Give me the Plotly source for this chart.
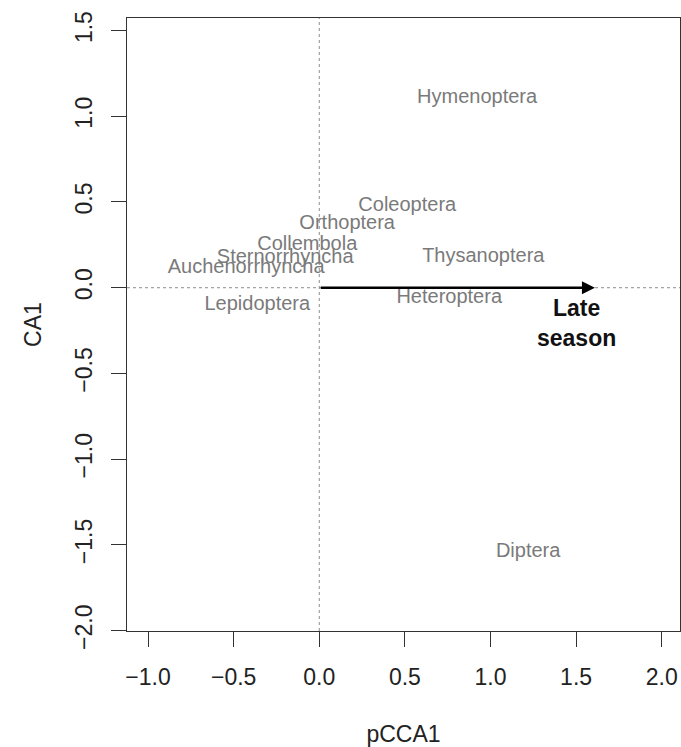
import plotly.graph_objects as go

# Taxon scores on the first constrained (pCCA1) and unconstrained (CA1) axes
taxa = ["Hymenoptera", "Coleoptera", "Orthoptera", "Collembola", "Sternorrhyncha",
        "Auchenorrhyncha", "Thysanoptera", "Heteroptera", "Lepidoptera", "Diptera"]
pcca1 = [0.922, 0.514, 0.163, -0.070, -0.199, -0.427, 0.958, 0.759, -0.362, 1.220]
ca1 = [1.107, 0.477, 0.372, 0.249, 0.174, 0.115, 0.180, -0.060, -0.101, -1.539]

# Environmental vector (biplot arrow) and its label
env_label = "Late<br>season"
env_x = 1.61
env_y = 0.0
env_label_pos = (1.50, -0.206)

ticks = [-2.0, -1.5, -1.0, -0.5, 0.0, 0.5, 1.0, 1.5, 2.0]
tick_text = ["\u22122.0", "\u22121.5", "\u22121.0", "\u22120.5", "0.0", "0.5", "1.0", "1.5", "2.0"]

FONT = "Liberation Sans, Arial, Helvetica, sans-serif"

fig = go.Figure()

fig.add_trace(go.Scatter(
    x=pcca1, y=ca1, mode="text", text=taxa,
    textposition="middle center",
    textfont=dict(family=FONT, size=20, color="#7a7a7a"),
    hoverinfo="skip", showlegend=False,
))

# Reference lines through the origin
fig.add_shape(type="line", xref="x", yref="paper", x0=0, x1=0, y0=0, y1=1,
              line=dict(color="#8c8c8c", width=1, dash="dot"), layer="below")
fig.add_shape(type="line", xref="paper", yref="y", x0=0, x1=1, y0=0, y1=0,
              line=dict(color="#8c8c8c", width=1, dash="dot"), layer="below")

# Biplot arrow
fig.add_annotation(x=env_x, y=env_y, ax=0, ay=0, xref="x", yref="y",
                   axref="x", ayref="y", showarrow=True, arrowhead=2,
                   arrowsize=1.0, arrowwidth=2.6, arrowcolor="#000000", text="")
fig.add_annotation(x=env_label_pos[0], y=env_label_pos[1], xref="x", yref="y",
                   text="<b>" + env_label + "</b>", showarrow=False,
                   font=dict(family=FONT, size=23, color="#111111"),
                   align="center")

axis_common = dict(
    showgrid=False, zeroline=False, showline=True, mirror=True,
    linecolor="#333333", linewidth=1.4,
    ticks="outside", ticklen=15, tickwidth=1.4, tickcolor="#333333",
    tickvals=ticks, ticktext=tick_text,
    tickfont=dict(family=FONT, size=23, color="#222222"),
    automargin=False,
)

fig.update_layout(
    width=681, height=747,
    margin=dict(l=127, r=1, t=18, b=116),
    paper_bgcolor="white", plot_bgcolor="white",
    xaxis=dict(range=[-1.123, 2.107], **axis_common,
               ticklabelstandoff=10,
               title=dict(text="pCCA1", standoff=38,
                          font=dict(family=FONT, size=23, color="#222222"))),
    yaxis=dict(range=[-2.002, 1.573], **axis_common,
               tickangle=-90, ticklabelstandoff=10,
               title=dict(text="CA1", standoff=22,
                          font=dict(family=FONT, size=23, color="#222222"))),
)

fig.write_html("out.html")
